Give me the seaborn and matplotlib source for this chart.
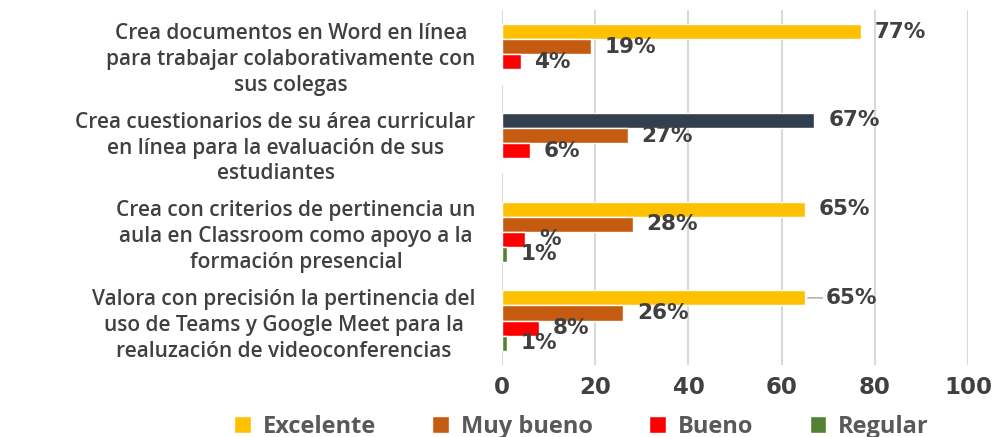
import pandas as pd
import matplotlib
matplotlib.use("Agg")
import matplotlib.pyplot as plt
import seaborn as sns

# ---- data ----
items = [
    "Crea documentos en Word en línea\npara trabajar colaborativamente con\nsus colegas",
    "Crea cuestionarios de su área curricular\nen línea para la evaluación de sus\nestudiantes",
    "Crea con criterios de pertinencia un\naula en Classroom como apoyo a la\nformación presencial",
    "Valora con precisión la pertinencia del\nuso de Teams y Google Meet para la\nrealuzación de videoconferencias",
]
levels = ["Excelente", "Muy bueno", "Bueno", "Regular"]
excelente = [77, 67, 65, 65]
muy_bueno = [19, 27, 28, 26]
bueno = [4, 6, 5, 8]
regular = [0, 0, 1, 1]
# data label texts as shown (the 3rd "Bueno" label only shows "%")
lbl_excelente = ["77%", "67%", "65%", "65%"]
lbl_muy_bueno = ["19%", "27%", "28%", "26%"]
lbl_bueno = ["4%", "6%", "%", "8%"]
lbl_regular = ["", "", "1%", "1%"]

colors = ["#FFC000", "#C55A11", "#FF0000", "#548235"]
highlight = "#323F4F"   # the 2nd "Excelente" bar is drawn dark
text_col = "#404040"

rows = []
for lvl, vals, lbls in zip(levels,
                           [excelente, muy_bueno, bueno, regular],
                           [lbl_excelente, lbl_muy_bueno, lbl_bueno, lbl_regular]):
    for it, v, l in zip(items, vals, lbls):
        rows.append({"item": it, "nivel": lvl, "pct": v, "label": l})
df = pd.DataFrame(rows)

sns.set_theme(style="white")
plt.rcParams["font.family"] = ["DejaVu Sans"]

fig = plt.figure(figsize=(9.94, 4.37), dpi=100)
ax = fig.add_axes([0.505, 0.165, 0.469, 0.812])

sns.barplot(data=df, y="item", x="pct", hue="nivel", order=items, hue_order=levels,
            palette=colors, orient="h", width=0.68, saturation=1, ax=ax, legend=True)

# recolour the highlighted bar and put labels on every bar
for lvl_i, cont in enumerate(ax.containers):
    sub = df[df["nivel"] == levels[lvl_i]].set_index("item").loc[items]
    for j, patch in enumerate(cont.patches):
        if lvl_i == 0 and j == 1:
            patch.set_facecolor(highlight)
        txt = sub["label"].iloc[j]
        if not txt:
            continue
        x_end = patch.get_x() + patch.get_width()
        y_mid = patch.get_y() + patch.get_height() / 2
        if lvl_i == 0 and j == 3:
            # label pulled away with a leader line
            ax.annotate(txt, xy=(x_end, y_mid), xytext=(15, 0), textcoords="offset points",
                        ha="left", va="center", fontsize=15.5, fontweight="bold", color=text_col,
                        arrowprops=dict(arrowstyle="-", color="#A6A6A6", lw=1,
                                        shrinkA=0, shrinkB=2))
        else:
            ax.annotate(txt, xy=(x_end, y_mid), xytext=(10, 0), textcoords="offset points",
                        ha="left", va="center", fontsize=15.5, fontweight="bold", color=text_col)

ax.set_xlim(0, 100)
ax.set_xticks([0, 20, 40, 60, 80, 100])
ax.xaxis.grid(True, color="#D9D9D9", linewidth=1.5)
ax.set_axisbelow(True)
for s in ax.spines.values():
    s.set_visible(False)
ax.set_xlabel("")
ax.set_ylabel("")
ax.tick_params(axis="both", length=0)
ax.tick_params(axis="x", pad=8, labelsize=16.5, labelcolor=text_col)
ax.tick_params(axis="y", pad=19, labelcolor=text_col)
for t in ax.get_xticklabels():
    t.set_fontweight("bold")
for t in ax.get_yticklabels():
    t.set_fontfamily("Open Sans")
    t.set_fontweight("semibold")
    t.set_fontsize(15)
    t.set_multialignment("center")
    t.set_linespacing(1.3)

handles, labs = ax.get_legend_handles_labels()
ax.legend_.remove()
fig.legend(handles, labs, loc="center", bbox_to_anchor=(0.585, 0.023), ncol=4, frameon=False,
           handlelength=0.7, handleheight=0.7, handletextpad=0.5, columnspacing=2.4,
           prop={"family": "Open Sans", "weight": "bold", "size": 17}, labelcolor="#595959")

fig.savefig("out.png", dpi=100)
